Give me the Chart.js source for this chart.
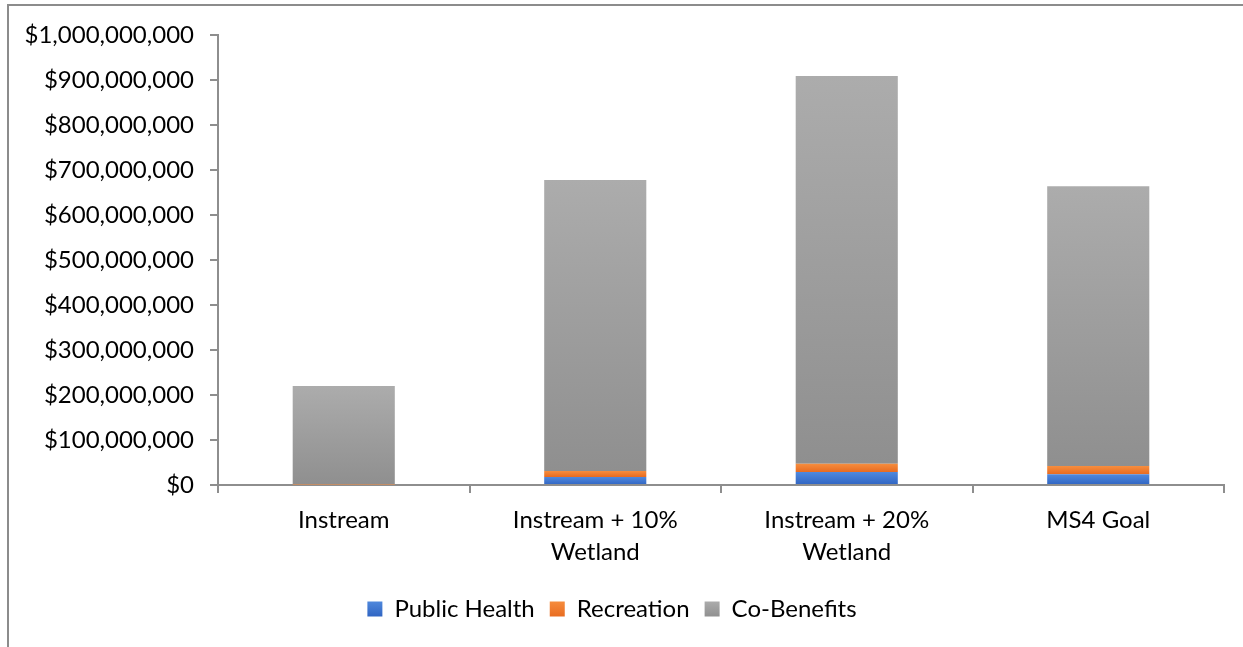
<!DOCTYPE html>
<html>
<head>
<meta charset="utf-8">
<script src="https://cdn.jsdelivr.net/npm/chart.js@4/dist/chart.umd.min.js"></script>
<style>
html,body{margin:0;padding:0;background:#fff;}
#wrap{position:absolute;left:0;top:0;width:1243px;height:647px;}
</style>
</head>
<body>
<div id="wrap"><canvas id="c" width="1243" height="647"></canvas></div>
<script>
const categories = [['Instream'], ['Instream + 10%', 'Wetland'], ['Instream + 20%', 'Wetland'], ['MS4 Goal']];
const publicHealth = [0, 18e6, 29e6, 24e6];
const recreation = [1e6, 13e6, 18e6, 18e6];
const coBenefits = [219e6, 647e6, 862e6, 622e6];
const seriesNames = ['Public Health', 'Recreation', 'Co-Benefits'];

const AXIS = '#8e8e8e';
const FONT = 'Lato, "Open Sans", sans-serif';
const allSeries = [publicHealth, recreation, coBenefits];
const gradColors = [['#5089dd', '#2f64c2'], ['#f68d3e', '#e86b20'], ['#acacac', '#8f8f8f']];

function grad(di) {
  return function (ctx) {
    const chart = ctx.chart;
    const c = chart.ctx;
    if (!chart.chartArea || ctx.dataIndex === undefined || ctx.type !== 'data') return gradColors[di][1];
    const y = chart.scales.y;
    let base = 0;
    for (let k = 0; k < di; k++) base += allSeries[k][ctx.dataIndex];
    const top = base + allSeries[di][ctx.dataIndex];
    const yt = y.getPixelForValue(top), yb = y.getPixelForValue(base);
    if (!isFinite(yt) || !isFinite(yb) || yt === yb) return gradColors[di][1];
    const g = c.createLinearGradient(0, yt, 0, yb);
    g.addColorStop(0, gradColors[di][0]);
    g.addColorStop(1, gradColors[di][1]);
    return g;
  };
}

const frame = {
  id: 'frame',
  beforeDraw(chart) {
    const c = chart.ctx;
    c.save();
    c.strokeStyle = '#8c8c8c';
    c.lineWidth = 2;
    c.beginPath();
    c.moveTo(8, 647);
    c.lineTo(8, 5);
    c.lineTo(1243, 5);
    c.stroke();
    c.restore();
  }
};

new Chart(document.getElementById('c'), {
  type: 'bar',
  data: {
    labels: categories,
    datasets: allSeries.map((d, i) => ({
      label: seriesNames[i],
      data: d,
      backgroundColor: grad(i),
      borderWidth: 0,
      barPercentage: 0.406,
      categoryPercentage: 1.0
    }))
  },
  options: {
    responsive: false,
    animation: false,
    layout: { padding: { left: 0, right: 19, top: 35, bottom: 16 } },
    plugins: {
      tooltip: { enabled: false },
      legend: {
        position: 'bottom',
        labels: {
          boxWidth: 15,
          boxHeight: 15,
          padding: 15,
          color: '#000',
          font: { family: FONT, size: 24 },
          generateLabels(chart) {
            return seriesNames.map((n, i) => ({
              text: n,
              fillStyle: (() => {
                const g = chart.ctx.createLinearGradient(0, 601, 0, 617);
                g.addColorStop(0, gradColors[i][0]);
                g.addColorStop(1, gradColors[i][1]);
                return g;
              })(),
              strokeStyle: 'rgba(0,0,0,0)',
              lineWidth: 0,
              datasetIndex: i,
              hidden: false
            }));
          }
        }
      }
    },
    scales: {
      x: {
        stacked: true,
        grid: { display: true, drawOnChartArea: false, drawTicks: true, tickLength: 8, color: AXIS, lineWidth: 2, offset: true },
        border: { display: true, color: AXIS, width: 2 },
        ticks: { color: '#000', font: { family: FONT, size: 24, lineHeight: 1.3 }, padding: 12, maxRotation: 0, autoSkip: false },
        afterFit(s) { s.height = 97; }
      },
      y: {
        stacked: true,
        min: 0,
        max: 1e9,
        grid: { display: true, drawOnChartArea: false, drawTicks: true, tickLength: 8, color: AXIS, lineWidth: 2 },
        border: { display: true, color: AXIS, width: 2 },
        ticks: {
          stepSize: 1e8,
          color: '#000',
          padding: 16,
          font: { family: FONT, size: 24 },
          callback: v => '$' + Number(v).toLocaleString('en-US')
        },
        afterFit(s) { s.width = 218; }
      }
    }
  },
  plugins: [frame]
});
</script>
</body>
</html>
